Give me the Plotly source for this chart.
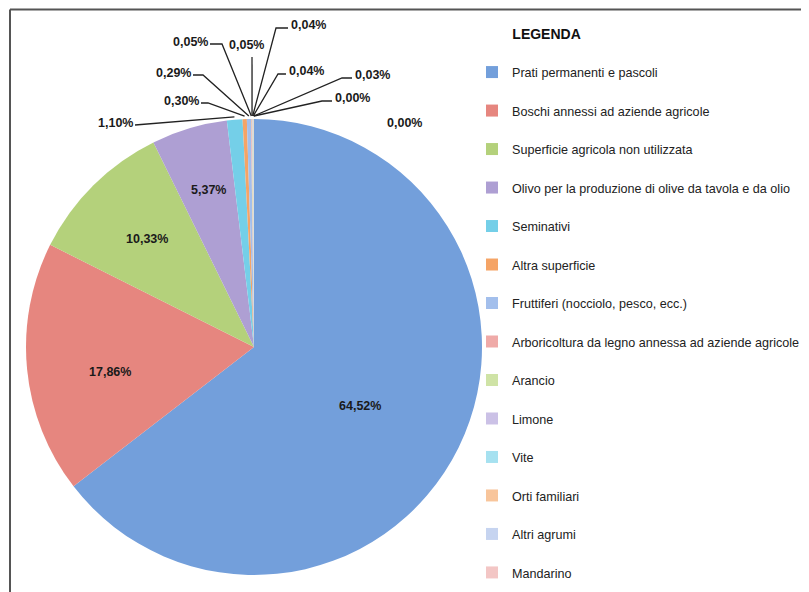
import plotly.graph_objects as go
import math

categories = [
    "Prati permanenti e pascoli",
    "Boschi annessi ad aziende agricole",
    "Superficie agricola non utilizzata",
    "Olivo per la produzione di olive da tavola e da olio",
    "Seminativi",
    "Altra superficie",
    "Fruttiferi (nocciolo, pesco, ecc.)",
    "Arboricoltura da legno annessa ad aziende agricole",
    "Arancio",
    "Limone",
    "Vite",
    "Orti familiari",
    "Altri agrumi",
    "Mandarino",
]
values = [64.52, 17.86, 10.33, 5.37, 1.10, 0.30, 0.29, 0.05, 0.05, 0.04, 0.04, 0.03, 0.00, 0.00]

colors = [
    "#739fdb", "#e6867f", "#b4d17b", "#ae9fd3", "#74cfe8", "#f5a466",
    "#a3bfec", "#efaaa8", "#cfe3a6", "#cbc1e6", "#a6e1f0", "#f8c59b",
    "#c6d4f0", "#f3c6c5",
]

W, H = 809, 592
OFF = 8  # page body margin
CX, CY, R = 254, 347, 228  # pie centre / radius as seen on screen

def fmt(v):
    return f"{v:.2f}".replace(".", ",") + "%"

texts = [fmt(v) for v in values]

# blank first line gives each legend entry the tall spacing of the original
legend_labels = [
    f" <br><span style='font-size:12.6px'>{c}</span>" for c in categories
]

def px2paper(x, y):
    return (x - OFF) / W, 1 - (y - OFF) / H

x0p, y0p = px2paper(CX - R, CY + R)
x1p, y1p = px2paper(CX + R, CY - R)

fig = go.Figure()
fig.add_trace(go.Pie(
    labels=legend_labels,
    values=values,
    textinfo="none",
    marker=dict(colors=colors, line=dict(width=0)),
    sort=False,
    direction="clockwise",
    rotation=0,
    hole=0,
    domain=dict(x=[x0p, x1p], y=[y0p, y1p]),
    automargin=False,
    hoverinfo="label+percent",
))

LABEL_FONT = dict(family="Liberation Sans, Arial", size=12.5, color="#1a1a1a", weight="bold")

# label placement (screen px): index -> (text centre x, y, leader side, elbow length)
label_pos = {
    0: (360, 406, "n", 0),
    1: (110, 372, "n", 0),
    2: (147, 239, "n", 0),
    3: (208, 190, "n", 0),
    4: (115, 123, "r", 0),
    5: (181, 101, "r", 7),
    6: (173, 73, "r", 10),
    7: (190, 42, "r", 12),
    8: (246, 45, "v", 0),
    9: (308, 25, "l", 12),
    10: (306, 71, "l", 8),
    11: (372, 75, "l", 10),
    12: (352, 98, "l", 10),
    13: (404, 123, "n", 0),
}

cum = 0.0
total = sum(values)
mids = []
for v in values:
    mids.append((cum + v / 2) / total * 2 * math.pi)
    cum += v

annotations = []
shapes = []
for i, (tx, ty, side, elbow) in label_pos.items():
    ax, ay = px2paper(tx, ty)
    annotations.append(dict(
        x=ax, y=ay, xref="paper", yref="paper", text=texts[i], showarrow=False,
        font=LABEL_FONT, xanchor="center", yanchor="middle",
    ))
    if side == "n":
        continue
    a = mids[i]
    rr = R + 3
    ex, ey = CX + rr * math.sin(a), CY - rr * math.cos(a)
    if side == "r":
        sx, sy = tx + 20, ty + 2
        pts = [(sx, sy), (sx + elbow, sy), (ex, ey)]
    elif side == "l":
        sx, sy = tx - 20, ty + 3
        pts = [(sx, sy), (sx - elbow, sy), (ex, ey)]
    else:
        pts = [(tx + 6, ty + 12), (ex, ey)]
    path = ""
    for k, (px, py) in enumerate(pts):
        qx, qy = px2paper(px, py)
        path += ("M" if k == 0 else "L") + f"{qx:.5f},{qy:.5f} "
    shapes.append(dict(type="path", path=path, xref="paper", yref="paper",
                       line=dict(color="#222222", width=1.3)))

# frame lines (top and left)
fx, _ = px2paper(10, 0)
fy = 1 - 1.5 / H
shapes.append(dict(type="line", xref="paper", yref="paper", x0=fx, x1=1.05, y0=fy, y1=fy,
                   line=dict(color="#555555", width=2)))
shapes.append(dict(type="line", xref="paper", yref="paper", x0=fx, x1=fx, y0=-0.05, y1=fy,
                   line=dict(color="#555555", width=2)))

lx, ly = px2paper(472, 24)
fig.update_layout(
    width=W, height=H,
    margin=dict(l=0, r=0, t=0, b=0),
    paper_bgcolor="white",
    plot_bgcolor="white",
    font=dict(family="Liberation Sans, Arial", color="#1a1a1a"),
    showlegend=True,
    legend=dict(
        x=lx, y=ly, xanchor="left", yanchor="top",
        font=dict(size=13.65, family="Liberation Sans, Arial", color="#222222"),
        valign="bottom",
        title=dict(text="\u00a0" * 12 + "<span style='font-size:14px'><b>LEGENDA</b></span>",
                   font=dict(size=11.5, family="Liberation Sans, Arial", color="#111111")),
        bgcolor="rgba(0,0,0,0)",
        itemclick=False,
    ),
    annotations=annotations,
    shapes=shapes,
)

fig.write_html("out.html")
